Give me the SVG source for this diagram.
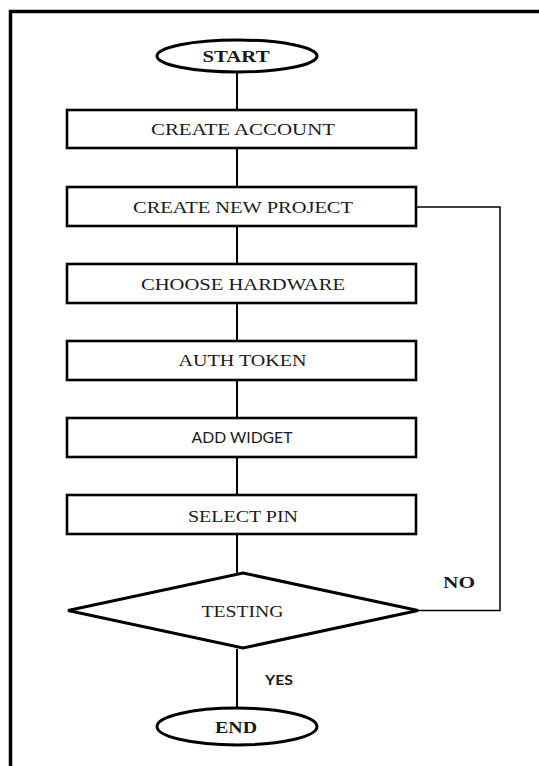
<svg xmlns="http://www.w3.org/2000/svg" width="539" height="766" viewBox="0 0 539 766">
  <style>
    .frame { fill: none; stroke: #000; stroke-width: 3.5; }
    .box { fill: #fff; stroke: #000; stroke-width: 2.6; }
    .term { fill: #fff; stroke: #000; stroke-width: 3; }
    .dec { fill: #fff; stroke: #000; stroke-width: 3; stroke-linejoin: miter; }
    .conn { fill: none; stroke: #000; stroke-width: 2; }
    .loop { fill: none; stroke: #000; stroke-width: 1.5; }
    .serif { font-family: "Liberation Serif", "Times New Roman", serif; font-size: 16px; fill: #1a1a1a; text-anchor: middle; }
    .serifb { font-family: "Liberation Serif", "Times New Roman", serif; font-size: 16px; font-weight: bold; fill: #1a1a1a; text-anchor: middle; }
    .sans { font-family: Lato, "Open Sans", sans-serif; font-size: 15px; fill: #1a1a1a; text-anchor: middle; }
    .sansb { font-family: Lato, "Open Sans", sans-serif; font-size: 14px; font-weight: bold; fill: #1a1a1a; text-anchor: middle; }
  </style>
  <rect width="539" height="766" fill="#fff"/>

  <!-- page frame (open to the right and bottom) -->
  <path class="frame" d="M10.5,766 V11.5 H539"/>

  <!-- connectors -->
  <g id="connectors">
    <line class="conn" x1="237" y1="72" x2="237" y2="110"/>
    <line class="conn" x1="237" y1="148" x2="237" y2="187"/>
    <line class="conn" x1="237" y1="226" x2="237" y2="264"/>
    <line class="conn" x1="237" y1="303" x2="237" y2="341"/>
    <line class="conn" x1="237" y1="380" x2="237" y2="418"/>
    <line class="conn" x1="237" y1="457" x2="237" y2="495"/>
    <line class="conn" x1="237" y1="534" x2="237" y2="574"/>
    <line class="conn" x1="237" y1="649" x2="237" y2="708"/>
    <polyline class="loop" points="418,610.5 500,610.5 500,207 416,207"/>
    <text class="serifb" x="459" y="588" textLength="32" lengthAdjust="spacingAndGlyphs">NO</text>
    <text class="sansb" x="279" y="685" textLength="28" lengthAdjust="spacingAndGlyphs">YES</text>
  </g>

  <g id="start">
    <ellipse class="term" cx="237" cy="56" rx="80" ry="16"/>
    <text class="serifb" x="236" y="61.5" textLength="67" lengthAdjust="spacingAndGlyphs">START</text>
  </g>

  <g id="create-account">
    <rect class="box" x="67" y="110" width="349" height="38"/>
    <text class="serif" x="243" y="134.5" textLength="184" lengthAdjust="spacingAndGlyphs">CREATE ACCOUNT</text>
  </g>

  <g id="create-new-project">
    <rect class="box" x="67" y="187" width="349" height="39"/>
    <text class="serif" x="243" y="213" textLength="220" lengthAdjust="spacingAndGlyphs">CREATE NEW PROJECT</text>
  </g>

  <g id="choose-hardware">
    <rect class="box" x="67" y="264" width="349" height="39"/>
    <text class="serif" x="243" y="290" textLength="204" lengthAdjust="spacingAndGlyphs">CHOOSE HARDWARE</text>
  </g>

  <g id="auth-token">
    <rect class="box" x="67" y="341" width="349" height="39"/>
    <text class="serif" x="242.5" y="366" textLength="128" lengthAdjust="spacingAndGlyphs">AUTH TOKEN</text>
  </g>

  <g id="add-widget">
    <rect class="box" x="67" y="418" width="349" height="39"/>
    <text class="sans" x="242" y="443" textLength="101" lengthAdjust="spacingAndGlyphs">ADD WIDGET</text>
  </g>

  <g id="select-pin">
    <rect class="box" x="67" y="495" width="349" height="39"/>
    <text class="serif" x="243" y="521.5" textLength="110" lengthAdjust="spacingAndGlyphs">SELECT PIN</text>
  </g>

  <g id="testing">
    <polygon class="dec" points="243,573 418,610.5 243,648 68,610.5"/>
    <text class="serif" x="242.5" y="617" textLength="82" lengthAdjust="spacingAndGlyphs">TESTING</text>
  </g>

  <g id="end">
    <ellipse class="term" cx="237" cy="726.5" rx="80" ry="18.5"/>
    <text class="serifb" x="236" y="733" textLength="42" lengthAdjust="spacingAndGlyphs">END</text>
  </g>
</svg>
